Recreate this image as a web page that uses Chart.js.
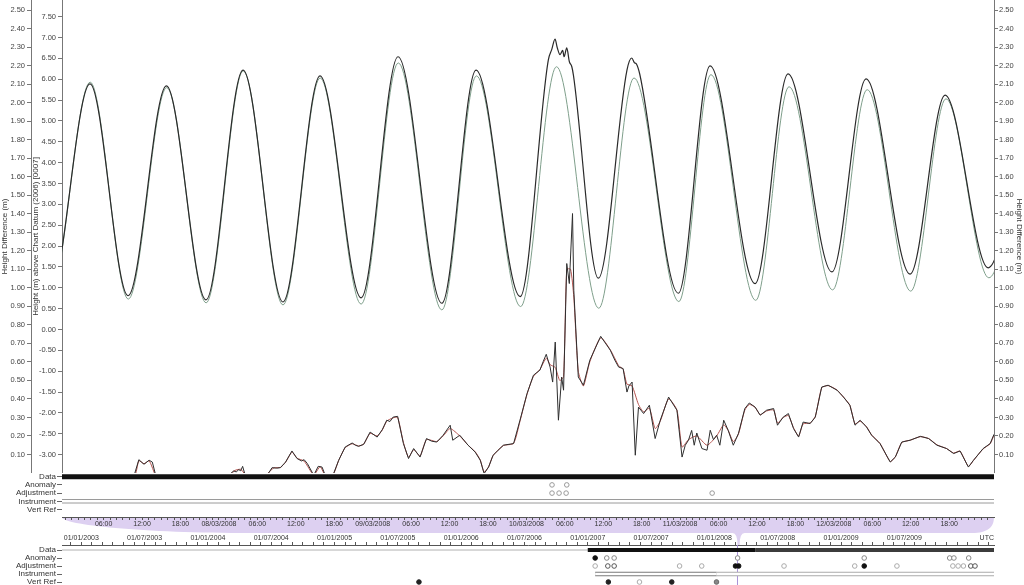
<!DOCTYPE html>
<html>
<head>
<meta charset="utf-8">
<title>Tide gauge - observed vs predicted</title>
<script src="https://cdn.jsdelivr.net/npm/chart.js@4.4.1/dist/chart.umd.min.js"></script>
<style>
    html, body { margin: 0; padding: 0; background: #fff; }
    #wrap { position: relative; width: 1024px; height: 585px; overflow: hidden; }
    canvas { position: absolute; left: 0; }
    #band { top: 0; z-index: 0; }
    #main { top: 0; z-index: 1; }
    #strip1 { top: 473px; z-index: 1; }
    #strip2 { top: 531px; z-index: 1; }
</style>
</head>
<body>
<div id="wrap">
    <canvas id="band" width="1024" height="585"></canvas>
    <canvas id="main" width="1024" height="473"></canvas>
    <canvas id="strip1" width="1024" height="59"></canvas>
    <canvas id="strip2" width="1024" height="54"></canvas>
</div>
<script>
// --- Data. Time = hours since 07/03/2008 00:00 UTC ---

// observed water level (m above chart datum)
const obsHours  = [-8.4, -2.4, 3.87, 9.82, 15.8, 21.98, 27.76, 34.0, 39.78, 46.2, 51.96, 58.8, 64.14, 71.03,
    75.42, 75.95, 76.47, 76.83, 77.25, 77.67, 77.88, 78.3, 78.71, 79.09, 79.34,
    83.23, 87.7, 88.45, 88.85, 89.2, 89.7, 95.72, 100.67, 107.7, 112.85, 119.7, 125.03, 131.9, 137.37, 144.1, 150.3];
const obsHeight = [5.85, 0.80, 5.89, 0.81, 5.84, 0.71, 6.22, 0.66, 6.08, 0.76, 6.54, 0.63, 6.22, 0.79,
    6.46, 6.71, 6.96, 6.75, 6.59, 6.69, 6.54, 6.75, 6.42, 6.30, 6.10,
    1.23, 6.22, 6.51, 6.40, 6.36, 6.12, 0.87, 6.32, 1.10, 6.13, 1.38, 6.01, 1.33, 5.62, 1.48, 5.60];

// predicted tide (m above chart datum)
const predHours  = [-8.4, -2.4, 3.9, 9.85, 15.85, 22.0, 27.8, 34.0, 39.8, 46.2, 52.0, 58.8, 64.2, 71.1,
    76.7, 83.3, 88.8, 95.8, 100.8, 107.8, 113.0, 119.8, 125.2, 132.0, 137.5, 144.2, 150.4];
const predHeight = [5.88, 0.78, 5.93, 0.73, 5.80, 0.64, 6.20, 0.59, 6.03, 0.61, 6.39, 0.47, 6.08, 0.55,
    6.30, 0.51, 6.03, 0.67, 6.11, 0.70, 5.82, 0.95, 5.75, 0.92, 5.53, 1.24, 5.45];

// residual, observed minus predicted (m)
const resHours = [-0.5, 8.6, 10.7, 11.5, 12.3, 13.1, 13.6, 14.2, 15.6, 21.0, 25.0, 25.5, 26.3, 26.7, 27.1, 27.4, 27.7, 28.1,
    29.6, 31.7, 32.3, 33.0, 33.6, 34.4, 35.4, 36.2, 36.9, 37.3, 37.8, 38.8, 39.5, 40.1, 40.7, 41.8, 42.7, 43.7,
    44.8, 45.3, 45.8, 46.6, 47.6, 48.7, 49.5, 50.2, 50.7, 51.2, 51.9, 52.8, 53.6, 54.4, 55.4, 56.4, 57.2, 58.0,
    59.0, 60.1, 60.5, 61.6, 62.9, 64.0, 64.8, 65.4, 66.1, 66.8, 68.4, 70.0, 71.0, 72.1, 73.1, 74.1, 74.6, 75.1,
    75.7, 76.1, 76.5, 77.0, 77.5, 77.8, 78.3, 78.7, 79.2, 79.4, 80.1, 80.9, 81.9, 83.6, 85.1, 85.8, 86.4, 87.1,
    87.7, 88.0, 88.5, 89.0, 89.5, 90.3, 91.2, 92.1, 92.9, 94.2, 95.5, 96.3, 96.8, 97.3, 97.8, 98.2, 98.6, 99.4,
    100.2, 100.7, 101.2, 101.7, 102.2, 102.8, 103.5, 104.3, 105.1, 106.1, 106.8, 107.7, 108.5, 109.5, 110.6,
    111.2, 112.1, 112.9, 113.7, 114.5, 115.2, 116.3, 117.1, 118.1, 119.1, 120.5, 121.5, 122.5, 123.3, 124.1,
    125.1, 125.9, 127.2, 128.8, 129.6, 130.6, 131.9, 133.5, 134.8, 136.1, 137.6, 138.7, 139.7, 141.0, 141.8,
    143.3, 144.4, 145.0];
const resDiff = [-0.10, -0.09, -0.02, 0.072, 0.047, 0.069, 0.059, -0.022, -0.09, -0.12, -0.066, -0.012, 0.011, 0.006, 0.018, 0.012, 0.036, -0.012,
    -0.09, -0.003, 0.029, 0.026, 0.029, 0.059, 0.119, 0.078, 0.065, 0.072, 0.051, -0.012, 0.036, 0.032, -0.022, -0.012, 0.069, 0.14,
    0.162, 0.150, 0.144, 0.155, 0.221, 0.194, 0.234, 0.285, 0.278, 0.302, 0.306, 0.159, 0.078, 0.132, 0.086, 0.186, 0.172, 0.167,
    0.204, 0.258, 0.177, 0.204, 0.15, 0.113, 0.069, -0.003, 0.032, 0.096, 0.15, 0.159, 0.285, 0.429, 0.528, 0.555, 0.600, 0.641,
    0.572, 0.491, 0.707, 0.285, 0.518, 0.447, 1.131, 1.023, 1.401, 0.987, 0.518, 0.474, 0.609, 0.738, 0.663, 0.610, 0.572, 0.564,
    0.437, 0.470, 0.491, 0.096, 0.356, 0.321, 0.366, 0.186, 0.285, 0.41, 0.339, 0.086, 0.150, 0.177, 0.230, 0.150, 0.216, 0.132,
    0.123, 0.231, 0.180, 0.204, 0.150, 0.285, 0.231, 0.15, 0.213, 0.348, 0.378, 0.356, 0.312, 0.339, 0.348,
    0.258, 0.302, 0.321, 0.24, 0.194, 0.275, 0.267, 0.302, 0.464, 0.474, 0.447, 0.41, 0.366, 0.258, 0.285,
    0.248, 0.204, 0.159, 0.059, 0.086, 0.167, 0.177, 0.198, 0.186, 0.15, 0.132, 0.105, 0.119, 0.032, 0.069,
    0.132, 0.159, 0.209];

// filtered residual (red)
const filtHours = [-0.5, 10.7, 11.5, 12.3, 13.1, 14.2, 16.0, 25.0, 26.3, 27.4, 28.1, 30.0, 31.7, 32.6, 33.6, 34.4, 35.4, 36.2,
    37.3, 38.8, 39.8, 40.7, 41.8, 42.7, 43.7, 44.8, 45.8, 46.6, 47.6, 48.7, 49.5, 50.2, 51.2, 51.9, 52.8, 53.6,
    54.4, 55.4, 56.4, 58.0, 59.0, 60.1, 61.6, 62.9, 64.0, 64.8, 65.4, 66.1, 66.8, 68.4, 70.0, 71.0, 72.1, 73.1,
    74.1, 75.1, 75.7, 76.5, 77.2, 77.8, 78.3, 78.9, 79.4, 80.1, 80.9, 81.9, 83.6, 85.1, 86.4, 87.1, 87.7, 88.5,
    89.5, 90.3, 91.2, 92.1, 92.9, 94.2, 95.5, 96.3, 97.3, 98.6, 100.2, 101.7, 102.8, 103.5, 104.3, 105.1, 106.1,
    106.8, 107.7, 108.5, 109.5, 110.6, 111.2, 112.1, 112.9, 113.7, 114.5, 115.2, 116.3, 117.1, 118.1, 119.1,
    120.5, 121.5, 122.5, 123.3, 124.1, 125.1, 125.9, 127.2, 128.8, 129.6, 130.6, 131.9, 133.5, 134.8, 136.1,
    137.6, 138.7, 139.7, 141.0, 141.8, 143.3, 144.4, 145.0];
const filtDiff = [-0.10, -0.02, 0.066, 0.05, 0.066, -0.02, -0.09, -0.07, 0.01, 0.02, -0.01, -0.09, 0.0, 0.028, 0.03, 0.058, 0.112, 0.08,
    0.064, -0.01, 0.034, -0.02, -0.01, 0.068, 0.136, 0.158, 0.146, 0.156, 0.214, 0.2, 0.232, 0.28, 0.298, 0.3, 0.165, 0.085,
    0.126, 0.092, 0.18, 0.17, 0.2, 0.24, 0.2, 0.15, 0.115, 0.07, 0.005, 0.034, 0.094, 0.148, 0.16, 0.28, 0.425, 0.522,
    0.558, 0.62, 0.585, 0.57, 0.5, 0.52, 1.1, 1.1, 0.95, 0.55, 0.47, 0.6, 0.73, 0.665, 0.58, 0.56, 0.48, 0.47,
    0.37, 0.33, 0.35, 0.24, 0.28, 0.4, 0.34, 0.14, 0.18, 0.2, 0.15, 0.2, 0.26, 0.23, 0.17, 0.21, 0.34,
    0.37, 0.355, 0.315, 0.335, 0.34, 0.27, 0.3, 0.31, 0.245, 0.2, 0.265, 0.27, 0.305, 0.46, 0.472,
    0.448, 0.41, 0.366, 0.265, 0.28, 0.25, 0.205, 0.16, 0.062, 0.088, 0.165, 0.177, 0.196, 0.186, 0.152,
    0.132, 0.108, 0.118, 0.036, 0.068, 0.13, 0.158, 0.205];

// --- Tick labels ---
const heightTicks = [-3.0, -2.5, -2.0, -1.5, -1.0, -0.5, 0.0, 0.5, 1.0, 1.5, 2.0, 2.5, 3.0, 3.5, 4.0, 4.5, 5.0, 5.5, 6.0, 6.5, 7.0, 7.5];
const diffTicks = [0.0, 0.1, 0.2, 0.3, 0.4, 0.5, 0.6, 0.7, 0.8, 0.9, 1.0, 1.1, 1.2, 1.3, 1.4, 1.5, 1.6, 1.7, 1.8, 1.9, 2.0, 2.1, 2.2, 2.3, 2.4, 2.5];
const zoomTickHours = [6, 12, 18, 24, 30, 36, 42, 48, 54, 60, 66, 72, 78, 84, 90, 96, 102, 108, 114, 120, 126, 132, 138];
const zoomTickLabels = ['06:00', '12:00', '18:00', '08/03/2008', '06:00', '12:00', '18:00', '09/03/2008',
    '06:00', '12:00', '18:00', '10/03/2008', '06:00', '12:00', '18:00', '11/03/2008',
    '06:00', '12:00', '18:00', '12/03/2008', '06:00', '12:00', '18:00'];
// overview axis: months since 01/01/2003
const overviewTickMonths = [0, 6, 12, 18, 24, 30, 36, 42, 48, 54, 60, 66, 72, 78];
const overviewTickLabels = ['01/01/2003', '01/07/2003', '01/01/2004', '01/07/2004', '01/01/2005', '01/07/2005',
    '01/01/2006', '01/07/2006', '01/01/2007', '01/07/2007', '01/01/2008', '01/07/2008', '01/01/2009', '01/07/2009'];
const rowLabels = ['Data', 'Anomaly', 'Adjustment', 'Instrument', 'Vert Ref'];

// --- QC flags for the displayed window (hours) ---
const zoomRange = [-0.5, 145];
const zoomAnomaly = [76.0, 78.3];
const zoomAdjustment = [76.0, 77.1, 78.2, 101.0];

// --- QC flags for the whole record (months since 01/01/2003) ---
const recordRange = [-1.83, 86.5];
const dataEarly = [48.0, 63.9];
const dataLate = [63.9, 86.5];
const anomalyFilled = [48.7];
const anomalyOpen = [49.8, 50.5, 62.2, 74.2, 82.3, 82.7, 84.1];
const adjustLight = [48.7, 56.7, 58.8, 66.6, 73.3, 77.3, 82.6, 83.1, 83.6];
const adjustDark = [49.9, 50.5, 84.3, 84.7];
const adjustFilled = [62.0, 62.3, 74.2];
const instrumentEarly = [48.7, 60.2];
const instrumentLate = [60.2, 86.5];
const vertRefFilled = [32.0, 49.95, 55.96];
const vertRefOpen = [52.9];
const vertRefGrey = [60.2];
const windowMonths = [62.19, 62.39];

// --- helpers ---
const xy = (xs, ys) => xs.map((x, i) => ({ x, y: ys[i] }));
const onRow = (xs, r) => xs.map(x => ({ x, y: r }));

// fixed axis sizes, and no extra room for overhanging labels
function fixSize(size) {
    return s => {
        if (s.isHorizontal()) s.height = size; else s.width = size;
        s.paddingTop = 0; s.paddingBottom = 0; s.paddingLeft = 0; s.paddingRight = 0;
    };
}

Chart.defaults.font.family = "'Liberation Sans', Arial, sans-serif";
Chart.defaults.color = '#444';

const baseOpts = {
    responsive: false,
    animation: false,
    events: [],
    plugins: { legend: { display: false }, tooltip: { enabled: false } }
};

function spanLine(span, row, color, width, order) {
    return { data: onRow(span, row), borderColor: color, borderWidth: width, pointRadius: 0, order };
}
function dots(xs, row, fill, stroke) {
    return { data: onRow(xs, row), showLine: false, pointRadius: 2.3, pointBorderWidth: 1,
        pointBackgroundColor: fill, pointBorderColor: stroke, order: -1 };
}

// --- Main chart ---
const mainChart = new Chart(document.getElementById('main'), {
    type: 'line',
    data: {
        datasets: [
            { label: 'Observed', data: xy(obsHours, obsHeight), yAxisID: 'yH', borderColor: '#2a2a2a',
              borderWidth: 1.2, pointRadius: 0, cubicInterpolationMode: 'monotone', capBezierPoints: false, order: 0 },
            { label: 'Predicted', data: xy(predHours, predHeight), yAxisID: 'yH', borderColor: '#7f9f8b',
              borderWidth: 1, pointRadius: 0, cubicInterpolationMode: 'monotone', capBezierPoints: false, order: 1 },
            { label: 'Residual', data: xy(resHours, resDiff), yAxisID: 'yD', borderColor: '#2e2e2e',
              borderWidth: 1, pointRadius: 0, tension: 0, order: 2 },
            { label: 'Residual (filtered)', data: xy(filtHours, filtDiff), yAxisID: 'yD', borderColor: '#b4534f',
              borderWidth: 1, pointRadius: 0, tension: 0.2, order: 3 }
        ]
    },
    options: {
        ...baseOpts,
        layout: { autoPadding: false },
        scales: {
            x: { type: 'linear', min: -0.5, max: 145, display: false },
            yH: {
                position: 'left', weight: 0, min: -3.44, max: 7.9,
                afterBuildTicks: s => { s.ticks = heightTicks.map(v => ({ value: v })); },
                afterFit: fixSize(31),
                ticks: { callback: v => v.toFixed(2), font: { size: 7.5 }, padding: 2, autoSkip: false },
                grid: { drawOnChartArea: false, tickLength: 4, color: '#777' },
                border: { color: '#777' },
                title: { display: true, text: 'Height (m) above Chart Datum (2006) [0007]', padding: 0,
                         font: { size: 8 }, color: '#333' }
            },
            yD: {
                position: 'left', weight: 1, min: 0, max: 2.554,
                afterBuildTicks: s => { s.ticks = diffTicks.map(v => ({ value: v })); },
                afterFit: fixSize(31),
                ticks: { callback: v => (v === 0 ? '' : v.toFixed(2)), font: { size: 7.5 }, padding: 2, autoSkip: false },
                grid: { drawOnChartArea: false, tickLength: 4, color: '#777' },
                border: { color: '#777' },
                title: { display: true, text: 'Height Difference (m)', padding: 0, font: { size: 8 }, color: '#333' }
            },
            yR: {
                position: 'right', min: 0, max: 2.554,
                afterBuildTicks: s => { s.ticks = diffTicks.map(v => ({ value: v })); },
                afterFit: fixSize(30),
                ticks: { callback: v => (v === 0 ? '' : v.toFixed(2)), font: { size: 7.5 }, padding: 1, autoSkip: false },
                grid: { drawOnChartArea: false, tickLength: 4, color: '#777' },
                border: { color: '#777' },
                title: { display: true, text: 'Height Difference (m)', padding: 0, font: { size: 8 }, color: '#333' }
            }
        }
    }
});

// --- QC strip for the window, with the hour axis ---
const rowAxis = (min, max) => ({
    type: 'linear', reverse: true, min, max,
    afterBuildTicks: s => { s.ticks = rowLabels.map((_, i) => ({ value: i })); },
    afterFit: fixSize(62),
    ticks: { callback: v => rowLabels[v], font: { size: 8 }, padding: 1, color: '#333', autoSkip: false },
    grid: { drawOnChartArea: false, tickLength: 5, color: '#666' },
    border: { display: false }
});

const strip1 = new Chart(document.getElementById('strip1'), {
    type: 'line',
    data: {
        datasets: [
            spanLine(zoomRange, 0, '#111', 5, 1),
            spanLine(zoomRange, 3, '#9a9a9a', 4.5, 1),
            spanLine(zoomRange, 3, '#fff', 2.5, 0),
            dots(zoomAnomaly, 1, '#fff', '#999'),
            dots(zoomAdjustment, 2, '#fff', '#999')
        ]
    },
    options: {
        ...baseOpts,
        layout: { autoPadding: false, padding: { right: 30 } },
        scales: {
            x: {
                type: 'linear', position: 'bottom', min: zoomRange[0], max: zoomRange[1],
                afterBuildTicks: s => {
                    const t = [];
                    for (let h = 0; h <= 144; h++) t.push({ value: h });
                    s.ticks = t;
                },
                afterFit: fixSize(15),
                ticks: {
                    autoSkip: false, maxRotation: 0, padding: 0, font: { size: 7 }, color: '#333',
                    callback: v => { const i = zoomTickHours.indexOf(v); return i >= 0 ? zoomTickLabels[i] : ''; }
                },
                grid: { drawOnChartArea: false, tickLength: 3, color: '#555' },
                border: { color: '#555' }
            },
            y: rowAxis(-0.45, 4.91)
        }
    }
});

// --- QC strip for the whole record, with the date axis on top ---
const windowMarker = {
    id: 'windowMarker',
    beforeDatasetsDraw(chart) {
        const { ctx, chartArea, scales } = chart;
        const x = scales.x.getPixelForValue(windowMonths[0]);
        ctx.save();
        ctx.strokeStyle = '#a892d8';
        ctx.lineWidth = 1;
        ctx.beginPath();
        ctx.moveTo(x, chartArea.top);
        ctx.lineTo(x, chartArea.bottom);
        ctx.stroke();
        ctx.restore();
    },
    afterDraw(chart) {
        const { ctx, chartArea } = chart;
        ctx.save();
        ctx.font = "7px 'Liberation Sans', Arial, sans-serif";
        ctx.fillStyle = '#333';
        ctx.textAlign = 'right';
        ctx.textBaseline = 'middle';
        ctx.fillText('UTC', chartArea.right, chartArea.top - 7.2);
        ctx.restore();
    }
};

const strip2 = new Chart(document.getElementById('strip2'), {
    type: 'line',
    data: {
        datasets: [
            spanLine(recordRange, 0, '#b0b0b0', 1, 2),
            spanLine(dataEarly, 0, '#111', 4, 1),
            spanLine(dataLate, 0, '#3c3c3c', 4, 1),
            spanLine(instrumentEarly, 3, '#7a7a7a', 4.5, 1),
            spanLine(instrumentLate, 3, '#aaa', 4.5, 2),
            spanLine(instrumentEarly, 3, '#fff', 2.5, 0),
            spanLine(instrumentLate, 3, '#fff', 2.5, 0),
            dots(anomalyFilled, 1, '#111', '#111'),
            dots(anomalyOpen, 1, '#fff', '#888'),
            dots(adjustLight, 2, '#fff', '#aaa'),
            dots(adjustDark, 2, '#fff', '#555'),
            dots(adjustFilled, 2, '#111', '#111'),
            dots(vertRefFilled, 4, '#222', '#222'),
            dots(vertRefOpen, 4, '#fff', '#aaa'),
            dots(vertRefGrey, 4, '#888', '#666')
        ]
    },
    options: {
        ...baseOpts,
        layout: { autoPadding: false, padding: { right: 30 } },
        scales: {
            x: {
                type: 'linear', position: 'top', min: recordRange[0], max: recordRange[1],
                afterBuildTicks: s => {
                    const t = [];
                    for (let m = -1; m <= 86; m++) t.push({ value: m });
                    s.ticks = t;
                },
                afterFit: fixSize(14),
                ticks: {
                    autoSkip: false, maxRotation: 0, padding: 0, font: { size: 7 }, color: '#333',
                    callback: v => { const i = overviewTickMonths.indexOf(v); return i >= 0 ? overviewTickLabels[i] : ''; }
                },
                grid: { drawOnChartArea: false, tickLength: 3, color: '#555' },
                border: { color: '#555' }
            },
            y: rowAxis(-0.625, 4.375)
        }
    },
    plugins: [windowMarker]
});

// --- Lavender band linking the hour axis to the window on the record axis ---
function drawBand() {
    const ctx = document.getElementById('band').getContext('2d');
    const zx = strip1.scales.x;
    const ox = strip2.scales.x;
    const top = 473 + zx.top;
    const left = zx.left, right = zx.right;
    const n0 = ox.getPixelForValue(windowMonths[0]);
    const n1 = ox.getPixelForValue(windowMonths[1]);
    const neckBottom = 531 + strip2.chartArea.top;
    const floor = top + 16;

    ctx.fillStyle = '#ddd0f1';
    ctx.beginPath();
    ctx.moveTo(left, top);
    ctx.lineTo(right, top);
    ctx.bezierCurveTo(right, top + 10, right - 6, floor, right - 22, floor);
    ctx.lineTo(n1 + 5, floor);
    ctx.quadraticCurveTo(n1, floor, n1, neckBottom);
    ctx.lineTo(n0, neckBottom);
    ctx.quadraticCurveTo(n0, floor, n0 - 5, floor);
    ctx.lineTo(left + 190, floor);
    ctx.bezierCurveTo(left + 80, floor, left, top + 8, left, top);
    ctx.closePath();
    ctx.fill();
}
drawBand();
</script>
</body>
</html>
